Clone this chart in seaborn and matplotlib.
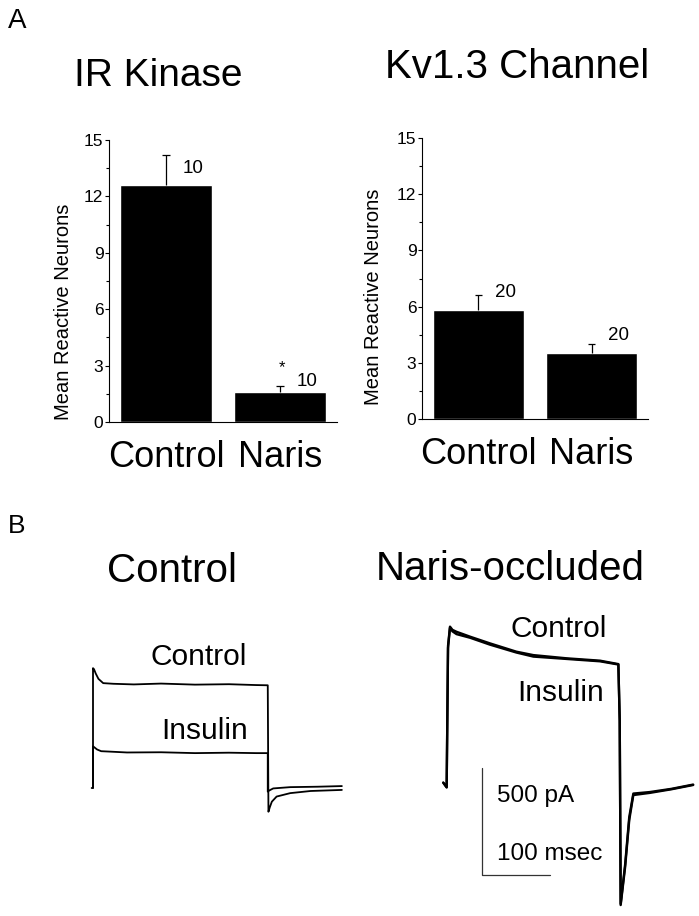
import numpy as np
import pandas as pd
import matplotlib
matplotlib.use("Agg")
import matplotlib.pyplot as plt
from matplotlib.ticker import MultipleLocator
import seaborn as sns

sns.set_style("ticks")
plt.rcParams['font.family'] = ['Liberation Sans', 'DejaVu Sans']
for k in ['text.color', 'axes.labelcolor', 'xtick.color', 'ytick.color', 'axes.edgecolor']:
    plt.rcParams[k] = 'black'

# --- panel A data ---
groups = ['Control', 'Naris']
ir_means = [12.6, 1.6]
ir_sems = [1.6, 0.3]
ir_n = ['10', '10']
kv_means = [5.8, 3.5]
kv_sems = [0.8, 0.5]
kv_n = ['20', '20']

# --- panel B traces (ms, pA) ---
ctl_ctl_t = [-2, 0, 0, 1.5, 4, 8, 15, 30, 60, 100, 150, 200, 240, 257, 258, 260, 263, 270, 290, 320, 366]
ctl_ctl_i = [0, 0, 560, 555, 535, 510, 490, 487, 484, 488, 483, 485, 481, 480, -111, -90, -64, -40, -24, -14, -9]
ctl_ins_t = [0, 0, 2, 6, 12, 25, 50, 100, 150, 200, 240, 257, 257, 259, 265, 290, 330, 366]
ctl_ins_i = [0, 195, 190, 180, 172, 170, 166, 167, 163, 165, 163, 163, -17, -12, -2, 4, 6, 9]

occ_ctl_t = [-5.5, -0.5, 1.5, 4.4, 8, 14, 34, 63, 102, 127, 176, 225, 252, 254, 255.4, 262, 268, 274, 298, 330, 362]
occ_ctl_i = [11, -11, 650, 740, 725, 716, 693, 662, 623, 607, 592, 581, 565, 300, -561, -382, -164, -47, -37, -20, 0]
occ_ins_t = [-5.5, -0.5, 1.5, 4.4, 8, 14, 34, 63, 102, 127, 176, 225, 252, 254, 255.4, 262, 268, 274, 298, 330, 362]
occ_ins_i = [11, -11, 640, 735, 718, 705, 688, 656, 619, 600, 589, 578, 563, 300, -555, -370, -150, -40, -33, -18, 2]

scale_pA = 500
scale_ms = 100

W, H = 699, 916
fig = plt.figure(figsize=(W / 100, H / 100), dpi=100)


def box(x0, y0, x1, y1):
    return [x0 / W, 1 - y1 / H, (x1 - x0) / W, (y1 - y0) / H]


def ftext(x, y, s, **kw):
    fig.text(x / W, 1 - y / H, s, va='baseline', **kw)


def bar_panel(rect, means, sems, ns, offs):
    ax = fig.add_axes(rect)
    df = pd.DataFrame({'group': groups, 'mean': means})
    sns.barplot(data=df, x='group', y='mean', color='black', saturation=1,
                width=0.8, errorbar=None, ax=ax)
    tops = [m + s for m, s in zip(means, sems)]
    # upper half of the error bar only
    ax.vlines([0, 1], means, tops, color='black', lw=0.9)
    ax.hlines(tops, [-0.035, 0.965], [0.035, 1.035], color='black', lw=0.9)
    for i in range(2):
        ax.text(i + 0.24, tops[i] + offs[i], ns[i],
                ha='center', va='center', fontsize=13.5)
    ax.set_xlim(-0.5, 1.5)
    ax.set_ylim(0, 15)
    ax.yaxis.set_major_locator(MultipleLocator(3))
    ax.yaxis.set_minor_locator(MultipleLocator(1.5))
    ax.tick_params(axis='y', which='major', length=3, width=0.8, labelsize=12.5, pad=1)
    ax.tick_params(axis='y', which='minor', length=2, width=0.8)
    ax.tick_params(axis='x', length=0, labelsize=26, pad=13)
    ax.set_xlabel('')
    ax.set_ylabel('Mean Reactive Neurons', fontsize=14.5)
    sns.despine(ax=ax)
    for s in ['left', 'bottom']:
        ax.spines[s].set_linewidth(0.8)
    return ax


ax1 = bar_panel(box(109, 140, 337, 422), ir_means, ir_sems, ir_n, [-0.7, 0.25])
ax1.yaxis.set_label_coords(-0.158, 0.39)
ax1.text(1.02, ir_means[1] + ir_sems[1] + 1.0, '*', ha='center', va='center', fontsize=12)

ax2 = bar_panel(box(422, 138, 648, 419), kv_means, kv_sems, kv_n, [0.15, 0.48])
ax2.yaxis.set_label_coords(-0.173, 0.435)

# --- panel B ---
px_ms, px_pA = 0.68, 0.214


def trace_axes(x0, y0, x1, y1, t0, base):
    ax = fig.add_axes(box(x0, y0, x1, y1))
    ax.set_xlim((x0 - t0) / px_ms, (x1 - t0) / px_ms)
    ax.set_ylim((base - y1) / px_pA, (base - y0) / px_pA)
    ax.axis('off')
    return ax


ax3 = trace_axes(80, 620, 350, 830, 93, 788)
sns.lineplot(x=ctl_ctl_t, y=ctl_ctl_i, ax=ax3, color='black', lw=1.3, sort=False, estimator=None)
sns.lineplot(x=ctl_ins_t, y=ctl_ins_i, ax=ax3, color='black', lw=1.3, sort=False, estimator=None)

ax4 = trace_axes(430, 600, 699, 915, 447, 785)
sns.lineplot(x=occ_ctl_t, y=occ_ctl_i, ax=ax4, color='black', lw=1.7, sort=False, estimator=None)
sns.lineplot(x=occ_ins_t, y=occ_ins_i, ax=ax4, color='black', lw=1.7, sort=False, estimator=None)
sx, sy = 51.5, 79
ax4.plot([sx, sx, sx + scale_ms], [sy, sy - scale_pA, sy - scale_pA], color='#333333', lw=0.9)

# --- text ---
ftext(8, 28, 'A', fontsize=20)
ftext(158.5, 86, 'IR Kinase', fontsize=28, ha='center')
ftext(517, 78, 'Kv1.3 Channel', fontsize=29, ha='center')
ftext(8, 533, 'B', fontsize=19)
ftext(172, 582, 'Control', fontsize=29, ha='center')
ftext(510, 580, 'Naris-occluded', fontsize=29, ha='center')
ftext(247, 665, 'Control', fontsize=21.5, ha='right')
ftext(248, 739, 'Insulin', fontsize=21.5, ha='right')
ftext(607, 637, 'Control', fontsize=21.5, ha='right')
ftext(604, 701, 'Insulin', fontsize=21.5, ha='right')
ftext(497, 802, '500 pA', fontsize=17.5)
ftext(497, 860, '100 msec', fontsize=17.5)

fig.savefig('out.png', dpi=100)
